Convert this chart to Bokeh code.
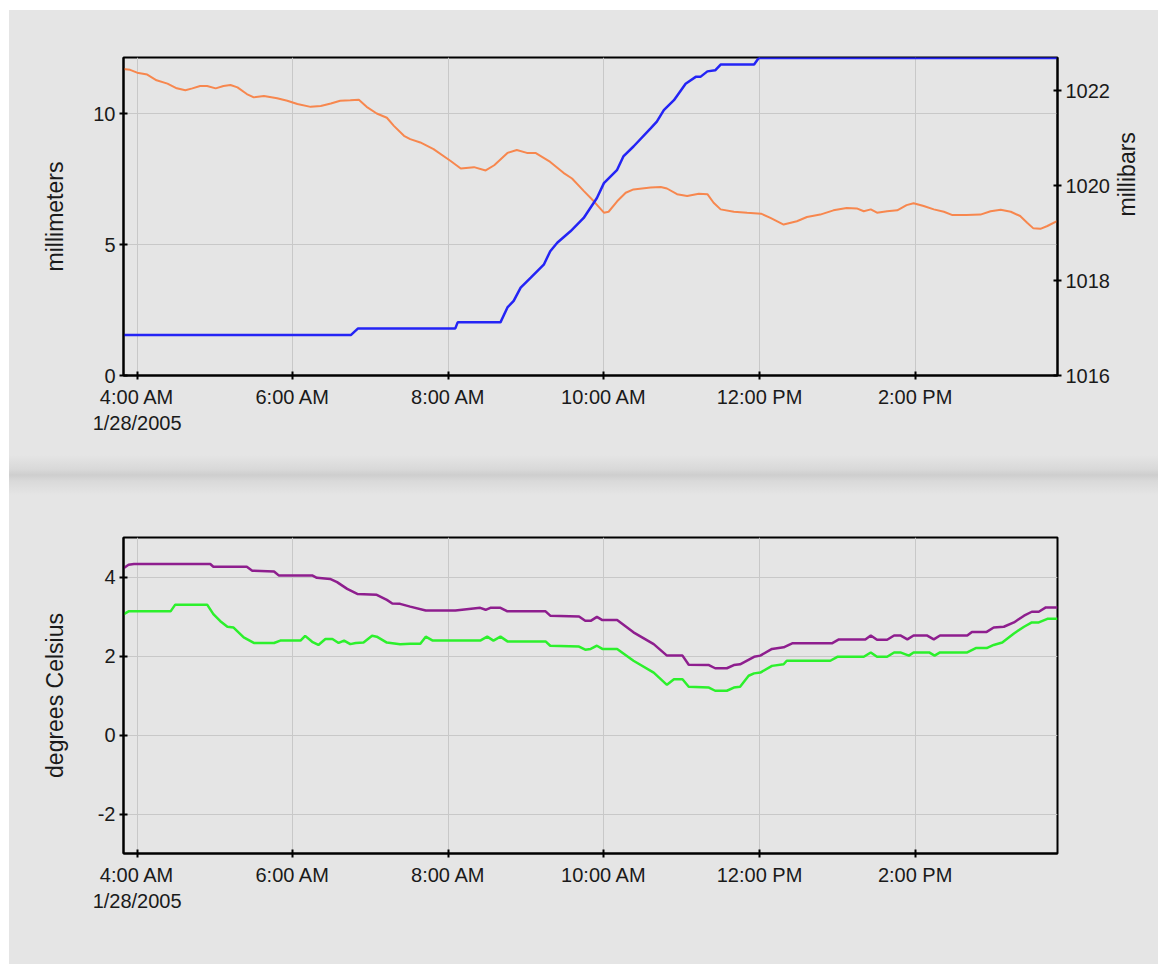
import math
from datetime import datetime, timedelta

from bokeh.plotting import figure
from bokeh.layouts import column
from bokeh.models import (Range1d, LinearAxis, FixedTicker, CustomJSTickFormatter, Div)
from bokeh.embed import file_html
from bokeh.resources import INLINE

# ---------------- data (hours after midnight, 28 Jan 2005) ----------------
DAY = datetime(2005, 1, 28)

rain_hours = [3.82, 6.75, 6.84, 8.09, 8.12, 8.67, 8.76, 8.84, 8.93, 9.06, 9.23, 9.31,
              9.40, 9.57, 9.74, 9.91, 10.0, 10.17, 10.25, 10.38, 10.60, 10.68, 10.77,
              10.90, 11.05, 11.18, 11.24, 11.33, 11.43, 11.50, 11.93, 11.99, 15.83]
rain_mm = [1.55, 1.55, 1.80, 1.80, 2.03, 2.03, 2.60, 2.85, 3.36, 3.74, 4.25, 4.75,
           5.07, 5.51, 6.02, 6.78, 7.35, 7.86, 8.37, 8.75, 9.44, 9.70, 10.14,
           10.52, 11.15, 11.41, 11.41, 11.62, 11.66, 11.88, 11.88, 12.13, 12.13]

pres_hours = [3.82, 3.91, 4.0, 4.13, 4.25, 4.39, 4.51, 4.62, 4.71, 4.81,
              4.90, 5.01, 5.11, 5.20, 5.29, 5.41, 5.50, 5.63, 5.80, 5.93,
              6.06, 6.23, 6.36, 6.49, 6.61, 6.74, 6.85, 6.95, 7.08, 7.21,
              7.30, 7.43, 7.51, 7.64, 7.81, 8.03, 8.16, 8.33, 8.48, 8.59,
              8.76, 8.88, 9.01, 9.12, 9.31, 9.48, 9.59, 9.74, 9.87, 10.0,
              10.06, 10.17, 10.28, 10.38, 10.60, 10.73, 10.81, 10.94, 11.07, 11.22,
              11.33, 11.41, 11.50, 11.67, 11.84, 12.02, 12.14, 12.31,
              12.48, 12.61, 12.78, 12.95, 13.12, 13.25, 13.34, 13.43, 13.51, 13.64,
              13.77, 13.89, 13.98, 14.11, 14.24, 14.37, 14.48, 14.66, 14.84, 14.97,
              15.10, 15.23, 15.35, 15.44, 15.52, 15.61, 15.70, 15.83]
pres_mb = [1022.46, 1022.44, 1022.38, 1022.34, 1022.22, 1022.15, 1022.05, 1022.01, 1022.05, 1022.10,
           1022.10, 1022.05, 1022.10, 1022.12, 1022.07, 1021.93, 1021.86, 1021.89, 1021.84, 1021.79,
           1021.72, 1021.66, 1021.68, 1021.73, 1021.79, 1021.80, 1021.81, 1021.66, 1021.52, 1021.43,
           1021.26, 1021.05, 1020.98, 1020.91, 1020.77, 1020.52, 1020.36, 1020.39, 1020.32, 1020.43,
           1020.69, 1020.75, 1020.69, 1020.69, 1020.50, 1020.27, 1020.15, 1019.89, 1019.67, 1019.43,
           1019.45, 1019.67, 1019.85, 1019.92, 1019.96, 1019.97, 1019.94, 1019.82, 1019.78, 1019.83,
           1019.82, 1019.64, 1019.50, 1019.45, 1019.43, 1019.41, 1019.32, 1019.18,
           1019.25, 1019.34, 1019.39, 1019.48, 1019.53, 1019.52, 1019.46, 1019.50, 1019.43, 1019.46,
           1019.48, 1019.59, 1019.63, 1019.57, 1019.50, 1019.45, 1019.38, 1019.38, 1019.39, 1019.46,
           1019.49, 1019.45, 1019.36, 1019.22, 1019.10, 1019.09, 1019.15, 1019.26]

temp_hours = [3.83, 3.89, 3.96, 4.94, 4.98, 5.41, 5.48, 5.76, 5.82, 6.25,
              6.31, 6.48, 6.57, 6.70, 6.83, 7.08, 7.21, 7.28, 7.38, 7.51,
              7.71, 7.90, 8.09, 8.41, 8.48, 8.54, 8.67, 8.76, 9.25, 9.31,
              9.68, 9.76, 9.83, 9.91, 9.98, 10.17, 10.38, 10.64, 10.81, 11.01,
              11.09, 11.35, 11.43, 11.58, 11.67, 11.75, 11.93, 12.01, 12.16, 12.31,
              12.42, 12.93, 13.02, 13.36, 13.43, 13.51, 13.64, 13.73, 13.81, 13.90,
              13.98, 14.15, 14.24, 14.32, 14.67, 14.73, 14.92, 15.01, 15.14, 15.27,
              15.40, 15.50, 15.59, 15.68, 15.83]
temp_c = [4.23, 4.31, 4.33, 4.33, 4.26, 4.26, 4.16, 4.14, 4.04, 4.04,
          3.98, 3.95, 3.87, 3.70, 3.57, 3.55, 3.42, 3.33, 3.32, 3.25,
          3.15, 3.15, 3.15, 3.22, 3.17, 3.22, 3.22, 3.13, 3.13, 3.02,
          3.00, 2.89, 2.89, 2.99, 2.91, 2.91, 2.60, 2.30, 2.01, 2.01,
          1.78, 1.77, 1.69, 1.69, 1.77, 1.79, 1.98, 2.01, 2.18, 2.22,
          2.32, 2.32, 2.42, 2.42, 2.52, 2.41, 2.41, 2.52, 2.52, 2.42,
          2.52, 2.52, 2.42, 2.52, 2.52, 2.61, 2.61, 2.72, 2.74, 2.85,
          3.02, 3.12, 3.12, 3.23, 3.23]

dew_hours = [3.83, 3.89, 4.43, 4.49, 4.90, 4.98, 5.07, 5.16, 5.24, 5.37,
             5.50, 5.76, 5.84, 6.10, 6.16, 6.25, 6.33, 6.42, 6.51, 6.59,
             6.66, 6.74, 6.81, 6.91, 7.02, 7.08, 7.21, 7.38, 7.51, 7.64,
             7.71, 7.80, 8.16, 8.41, 8.50, 8.58, 8.67, 8.76, 9.25, 9.31,
             9.68, 9.76, 9.83, 9.91, 9.98, 10.17, 10.38, 10.64, 10.81, 10.90,
             11.01, 11.09, 11.35, 11.43, 11.58, 11.67, 11.75, 11.86, 11.93, 12.01,
             12.16, 12.31, 12.35, 12.91, 13.00, 13.34, 13.43, 13.51, 13.64, 13.73,
             13.81, 13.92, 13.98, 14.18, 14.25, 14.32, 14.67, 14.78, 14.92, 15.01,
             15.12, 15.27, 15.40, 15.50, 15.59, 15.70, 15.83]
dew_c = [3.06, 3.13, 3.13, 3.30, 3.30, 3.06, 2.88, 2.74, 2.72, 2.47,
         2.33, 2.33, 2.39, 2.39, 2.51, 2.36, 2.28, 2.43, 2.43, 2.33,
         2.39, 2.30, 2.33, 2.34, 2.51, 2.49, 2.34, 2.30, 2.31, 2.31,
         2.49, 2.39, 2.39, 2.39, 2.49, 2.39, 2.49, 2.37, 2.37, 2.26,
         2.24, 2.16, 2.18, 2.26, 2.18, 2.18, 1.88, 1.58, 1.27, 1.41,
         1.41, 1.22, 1.20, 1.12, 1.12, 1.20, 1.22, 1.50, 1.56, 1.58,
         1.75, 1.79, 1.88, 1.88, 1.98, 1.98, 2.09, 1.98, 1.98, 2.09,
         2.09, 2.01, 2.09, 2.09, 2.01, 2.09, 2.09, 2.20, 2.20, 2.28,
         2.34, 2.57, 2.74, 2.85, 2.85, 2.94, 2.94]

tick_hours = [4, 6, 8, 10, 12, 14]
x_start_h, x_end_h = 3.825, 15.83
mm_ticks = [0, 5, 10]
mb_ticks = [1016, 1018, 1020, 1022]
c_ticks = [-2, 0, 2, 4]

# ---------------- helpers ----------------
EPOCH = datetime(1970, 1, 1)


def to_dt(hours):
    return [DAY + timedelta(hours=h) for h in hours]


def to_ms(h):
    return (DAY + timedelta(hours=h) - EPOCH).total_seconds() * 1000.0


BG = "#e5e5e5"
TXT = "#1a1a1a"
FONT = "Liberation Sans"
GRID = "#c8c8c8"
W = 1149

fmt_code = """
const d = new Date(tick);
const h = d.getUTCHours();
const m = d.getUTCMinutes();
const hh = (h % 12 == 0) ? 12 : h % 12;
let s = hh + ":" + (m < 10 ? "0" : "") + m + " " + (h < 12 ? "AM" : "PM");
if (index == 0) {
  s += "\\n" + (d.getUTCMonth() + 1) + "/" + d.getUTCDate() + "/" + d.getUTCFullYear();
}
return s;
"""


def style_axis(ax, ticks, label, standoff):
    ax.ticker = FixedTicker(ticks=ticks, minor_ticks=[])
    ax.axis_label = label
    ax.axis_label_text_font = FONT
    ax.axis_label_text_font_size = "23px"
    ax.axis_label_text_font_style = "normal"
    ax.axis_label_text_color = TXT
    ax.axis_label_standoff = standoff
    ax.major_label_text_font = FONT
    ax.major_label_text_font_size = "20px"
    ax.major_label_text_color = TXT
    ax.major_label_standoff = 4
    ax.axis_line_color = "black"
    ax.axis_line_width = 2
    ax.major_tick_line_color = "black"
    ax.major_tick_line_width = 2
    ax.major_tick_in = 4
    ax.major_tick_out = 4
    ax.minor_tick_line_color = None


def make_fig(height, y_range, border_top, border_bottom):
    p = figure(width=W, height=height, x_axis_type="datetime",
               x_range=Range1d(to_ms(x_start_h), to_ms(x_end_h)),
               y_range=y_range, output_backend="svg", toolbar_location=None,
               min_border_left=114, min_border_right=101,
               min_border_top=border_top, min_border_bottom=border_bottom)
    p.background_fill_color = BG
    p.border_fill_color = BG
    p.outline_line_color = "black"
    p.outline_line_width = 2
    p.outline_line_alpha = 1
    xa = p.xaxis[0]
    style_axis(xa, [to_ms(h) for h in tick_hours], None, 0)
    xa.formatter = CustomJSTickFormatter(code=fmt_code)
    xa.major_label_standoff = 6
    p.xgrid.grid_line_color = GRID
    p.ygrid.grid_line_color = GRID
    p.xgrid.grid_line_width = 1
    p.ygrid.grid_line_width = 1
    return p


# ---------------- top chart: rain (mm) + pressure (mb) ----------------
p1 = make_fig(445, Range1d(0, 12.15), 47, 80)
style_axis(p1.yaxis[0], mm_ticks, "millimeters", 22)
p1.extra_y_ranges = {"mb": Range1d(1016, 1022.7)}
ax_r = LinearAxis(y_range_name="mb")
style_axis(ax_r, mb_ticks, "millibars", 14)
ax_r.axis_label_orientation = math.pi / 2
p1.add_layout(ax_r, "right")

p1.line(to_dt(pres_hours), pres_mb, y_range_name="mb",
        line_color="#f7874e", line_width=2.0)
p1.line(to_dt(rain_hours), rain_mm, line_color="#2424f5", line_width=2.5)

# ---------------- separator band ----------------
band = Div(text="", width=W, height=40, margin=0,
           styles={"background": "linear-gradient(to bottom, #e5e5e5 0%, #d9d9d9 35%, "
                                 "#cecece 50%, #d9d9d9 65%, #e5e5e5 100%)"})

# ---------------- bottom chart: temperatures ----------------
p2 = make_fig(469, Range1d(-3, 5), 42, 111)
style_axis(p2.yaxis[0], c_ticks, "degrees Celsius", 27)
p2.yaxis[0].major_label_overrides = {-2: "-2"}

p2.line(to_dt(dew_hours), dew_c, line_color="#2cf02c", line_width=2.5)
p2.line(to_dt(temp_hours), temp_c, line_color="#8e1e8e", line_width=2.5)

layout = column(p1, band, p2, spacing=0, margin=(10, 0, 0, 9))
layout.styles = {"background": BG}

open("out.html", "w").write(file_html(layout, INLINE))
